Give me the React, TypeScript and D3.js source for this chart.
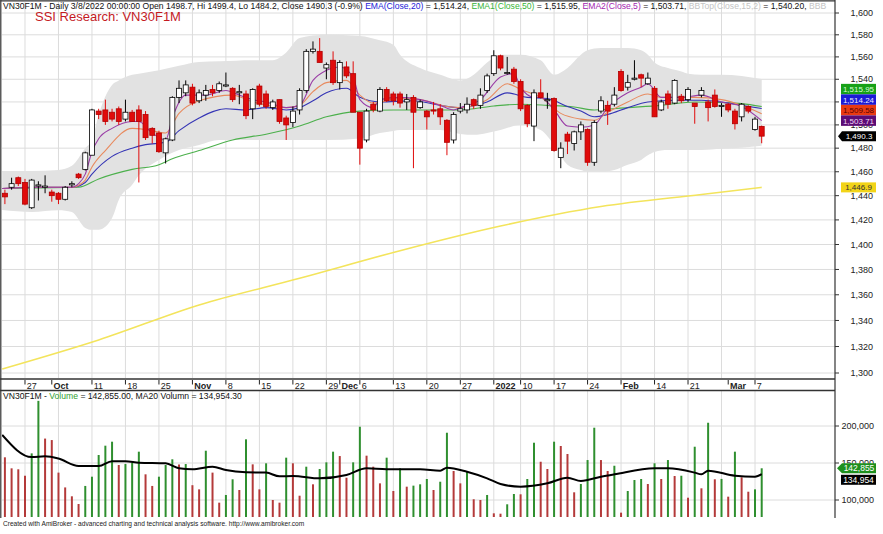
import React from "react";
import * as d3 from "d3";

const W = 883;
const H = 534;

// ---------- candle data (Sep 22 2021 .. Mar 8 2022, VN30F1M daily) ----------
const openP = [1442,1447,1455,1451,1430,1448,1447,1443,1442,1437,1449,1458,1462,1474,1512,1513,1511,1514,1505,1511,
1513,1509,1497,1493,1476,1487,1524,1528,1533,1521,1526,1531,1530,1534,1532,1528,1527,1514,1534,1527,
1515,1522,1506,1502,1513,1530,1565,1565,1550,1557,1537,1551,1545,1511,1487,1518,1512,1531,1527,1527,
1520,1524,1515,1512,1513,1514,1504,1487,1512,1513,1522,1517,1530,1545,1561,1545,1549,1538,1517,1499,
1528,1521,1523,1472,1492,1484,1494,1496,1468,1512,1517,1518,1547,1533,1540,1544,1536,1532,1513,1527,
1519,1525,1522,1519,1526,1520,1526,1516,1518,1512,1507,1516,1496,1498.7];
const highP = [1445,1455,1456,1454,1454,1452,1457,1445,1443,1448,1452,1459,1477,1514,1514,1522,1514,1516,1522,1513,
1517,1512,1498,1495,1489,1525,1539,1539,1536,1531,1535,1535,1538,1546,1533,1535,1530,1532,1536,1530,
1522,1522,1508,1516,1532,1567,1574,1577,1555,1565,1557,1556,1556,1511,1514,1520,1533,1533,1529,1529,
1527,1526,1522,1513,1520,1518,1505,1511,1519,1524,1523,1532,1545,1566,1562,1560,1551,1540,1518,1531,
1540,1528,1524,1485,1494,1495,1503,1497,1504,1525,1521,1533,1549,1544,1557,1545,1546,1534,1522,1530,
1540,1527,1533,1519,1533,1522,1531,1519,1519,1514,1519,1517,1507,1499.4];
const lowP = [1433,1445,1448,1432,1429,1436,1442,1435,1433,1436,1447,1454,1461,1474,1505,1500,1503,1500,1503,1503,
1451,1487,1484,1476,1467,1486,1519,1525,1517,1519,1521,1525,1528,1533,1520,1518,1505,1505,1516,1514,
1513,1501,1487,1498,1509,1528,1563,1555,1540,1535,1531,1541,1511,1466,1485,1511,1511,1520,1517,1515,
1513,1463,1514,1496,1509,1500,1474,1484,1510,1510,1514,1514,1528,1543,1548,1544,1536,1512,1498,1486,
1523,1514,1477,1463,1475,1478,1487,1465,1465,1510,1500,1516,1529,1530,1539,1533,1535,1507,1512,1514,
1518,1519,1520,1501,1524,1503,1515,1507,1511,1496,1503,1510,1495,1484.2];
const closeP = [1439,1450,1450,1433,1453,1449,1448,1440,1437,1447,1450,1455,1476,1513,1509,1503,1505,1503,1511,1503,
1503,1489,1491,1477,1488,1524,1532,1535,1519,1528,1530,1528,1536,1535,1522,1529,1508,1531,1518,1516,
1520,1503,1500,1512,1530,1565,1567,1555,1553,1537,1555,1543,1511,1480,1512,1513,1531,1521,1521,1519,
1522,1511,1520,1507,1512,1507,1485,1509,1514,1518,1517,1526,1543,1561,1550,1546,1538,1514,1501,1528,
1524,1522,1478,1480,1486,1494,1500,1468,1502,1521,1512,1526,1530,1537,1541,1541,1541,1507,1520,1518,
1539,1521,1531,1516,1530,1515,1516,1517,1513,1501,1518,1512,1505,1490.3];
const volume = [157700,142800,141500,132800,163000,234000,183000,181000,137000,117000,105000,94600,119000,131500,160800,173400,178800,147300,148600,150400,
165300,134700,119000,131500,147300,155000,148000,148600,120000,114400,166600,137000,96400,106800,128000,113500,182000,148200,114400,149600,
100000,96400,157200,149600,105800,145000,121200,141900,150900,165300,159400,130100,150900,199000,159900,145000,122500,157200,112200,142800,
118000,119400,121200,128400,113500,124700,190900,139200,122500,138200,101000,100000,106800,82000,81500,94200,108100,107700,128400,177400,
151700,141900,178800,173000,162200,110400,121600,154000,197700,154000,139200,146300,82900,112200,127000,128400,121600,149600,128400,154000,
132400,132800,103100,172000,115800,204400,128000,128500,104500,165300,130700,111200,114400,142855];

// ---------- indicator lines: [bar index, value] ----------
const ema5Pts: [number, number][] = [[-0.4,1446],[5,1447],[10,1447],[11,1450],[12,1458],[13,1477],[14,1488],[16,1497],[19,1503],[20,1503],[22,1493],[24,1487],[25,1506],[27,1526],[30,1526],[33,1530],[35,1526],[37,1522],[39,1520],[42,1515],[44,1517],[46,1539],[48,1548],[50,1551],[52,1542],[53,1522],[55,1515],[56,1522],[59,1524],[62,1522],[65,1517],[67,1513],[68,1515],[71,1522],[74,1542],[76,1545],[77,1533],[79,1524],[80,1524],[82,1513],[84,1499],[86,1498],[88,1500],[90,1515],[93,1528],[95,1533],[96,1536],[98,1524],[101,1524],[104,1526],[107,1520],[110,1516],[113,1503.71]];
const ema10Pts: [number, number][] = [[-0.4,1446],[5,1447],[10,1447],[11,1448.5],[12,1453],[13,1464],[15,1478],[19,1497],[21,1496],[24,1493],[26,1510],[29,1521],[34,1526],[37,1520],[42,1515],[44,1517],[46,1529],[48,1537],[51,1539],[53,1526],[55,1519],[59,1523],[62,1522],[66,1516],[68,1515],[72,1522],[75,1536],[77,1531],[80,1524],[83,1510],[86,1505],[88,1504],[90,1511],[93,1520],[96,1527],[98,1524],[103,1524],[107,1522],[110,1517],[113,1509.58]];
const ema20Pts: [number, number][] = [[-0.4,1446],[5,1447],[10,1447],[12,1451],[13,1458],[16,1473],[19,1480],[21,1483],[24,1485],[26,1495],[29,1506],[33,1514],[36,1513],[39,1515],[42,1513],[44,1515],[46,1521],[48,1528],[51,1532],[53,1524],[56,1520],[61,1521],[65,1517],[68,1515],[72,1520],[75,1528],[78,1524],[81,1523],[84,1516],[86,1512],[88,1507],[90,1509],[93,1515],[96,1520],[100,1521.5],[104,1521.5],[107,1520],[110,1517],[113,1514.24]];
const ema50Pts: [number, number][] = [[-0.4,1446],[5,1446.5],[11,1447],[14,1454],[19,1462],[23,1466],[25,1471],[29,1478],[34,1487],[39,1492],[44,1499],[48,1507],[53,1512],[58,1513],[63,1513],[68,1513],[73,1516.5],[77,1518],[81,1517],[85,1515.5],[88,1513],[93,1515],[98,1517],[103,1520],[107,1519.5],[110,1518.5],[113,1515.95]];
const ema200Pts: [number, number][] = [[-0.4,1303],[14,1325],[29,1352],[44,1373],[59,1395],[74,1415],[89,1431],[104,1441],[113,1446.9]];

const bbIdx = [-0.4,4,8,10,12,13,14,16,17,19,20,23,26,29,32,37,40,42,44,48,53,56,58,59,62,65,68,70,72,74,77,80,82,84,86,87,89,91,93,95,96,97,99,101,102,104,107,110,113];
const bbTop = [1460.7,1460.7,1461.5,1465,1480,1487,1508.7,1535,1539,1544,1545,1548,1552,1555.4,1556,1557,1557,1564,1577,1580,1579,1575,1571,1562,1550,1544,1539,1544,1555,1562,1562,1557,1544,1550,1562,1566,1568,1568,1568,1566,1562,1555,1550,1547,1545,1544,1544,1543,1540.2];
const bbBot = [1428.2,1426.6,1428,1426.6,1413.5,1412,1412,1421.6,1436.5,1449,1457,1470,1478.5,1482.8,1487,1487,1487,1487,1487,1487,1488.3,1493,1494.8,1495.6,1495.6,1495.6,1492.2,1491.4,1493,1495.6,1500,1495.6,1482.8,1466,1461.5,1460,1460,1461.5,1466,1470,1474,1476.8,1478.5,1478.5,1478.5,1478.5,1479.4,1480.3,1482];

const volMa20Pts: [number, number][] = [[-0.4,188000],[4,158000],[6,159000],[8,156000],[11,146000],[14,146000],[16,152500],[18,152500],[20,150500],[24,149500],[26,143000],[28,141500],[31,145000],[33,140500],[36,137500],[39,137000],[41,132000],[43,132500],[47,129300],[51,133800],[54,142800],[57,141500],[62,141500],[65,139600],[66,143700],[69,138200],[72,129300],[74,121600],[77,118000],[81,122500],[84,130100],[86,125700],[89,131500],[91,134700],[97,142800],[99,142800],[103,137000],[104,134700],[105,139600],[109,132800],[112,131500],[113,134954.3]];

const priceTicks = d3.range(1300, 1601, 20);
const volTicks = [100000, 150000, 200000];
const monthAbbr = ["2022", "Feb", "Mar", "Apr", "May", "Jun", "Jul", "Aug", "Sep", "Oct", "Nov", "Dec"];
const holidays = ["2022-01-03", "2022-01-31", "2022-02-01", "2022-02-02", "2022-02-03", "2022-02-04"];

const FONT = "'Liberation Sans', Arial, sans-serif";
const fmtDay = d3.timeFormat("%Y-%m-%d");

function tradingDays(): Date[] {
  return d3.timeDay
    .range(new Date(2021, 8, 22), new Date(2022, 2, 9))
    .filter((d) => d.getDay() !== 0 && d.getDay() !== 6 && !holidays.includes(fmtDay(d)));
}

export default function App() {
  const days = tradingDays();
  const n = closeP.length;
  const PL = 2, PR = 835, PT = 2, PB = 378, VT = 391, VB = 517;
  const xs = d3.scaleLinear().domain([0, 113]).range([4.9, 761.7]);
  const ys = d3.scaleLog().domain([1300, 1600]).range([373, 13]);
  const yv = d3.scaleLinear().domain([100000, 200000]).range([500, 426]);

  const line = d3.line<[number, number]>().x((d) => xs(d[0])).y((d) => ys(d[1])).curve(d3.curveMonotoneX);
  const vline = d3.line<[number, number]>().x((d) => xs(d[0])).y((d) => yv(d[1])).curve(d3.curveMonotoneX);
  const band = d3
    .area<number>()
    .x((_, i) => xs(bbIdx[i]))
    .y0((_, i) => ys(bbBot[i]))
    .y1((_, i) => ys(bbTop[i]))
    .curve(d3.curveMonotoneX);

  // week starts (grid) and labels
  const weekStarts: number[] = [];
  const monthStarts: number[] = [];
  days.forEach((d, i) => {
    if (i === 0) return;
    if (+d3.timeMonday.floor(d) !== +d3.timeMonday.floor(days[i - 1])) weekStarts.push(i);
    if (d.getMonth() !== days[i - 1].getMonth()) monthStarts.push(i);
  });
  const xLabels: { i: number; text: string; bold: boolean }[] = [];
  monthStarts.forEach((i) => xLabels.push({ i, text: monthAbbr[days[i].getMonth()], bold: true }));
  weekStarts.forEach((i) => {
    if (monthStarts.some((m) => Math.abs(m - i) <= 1)) return;
    xLabels.push({ i, text: String(days[i].getDate()), bold: false });
  });

  // right value boxes (stacked so they do not overlap)
  const boxH = 10.5;
  const boxes = [
    { v: ema50Pts[ema50Pts.length - 1][1], bg: "#17a117", fg: "#d9ffd9" },
    { v: ema20Pts[ema20Pts.length - 1][1], bg: "#1b1bd6", fg: "#e8e8ff" },
    { v: ema10Pts[ema10Pts.length - 1][1], bg: "#e83a12", fg: "#5a0000" },
    { v: ema5Pts[ema5Pts.length - 1][1], bg: "#5c0c74", fg: "#f0d8f8" },
  ].map((b) => ({ ...b, y: ys(b.v) }));
  boxes.sort((a, b) => a.y - b.y);
  for (let k = boxes.length - 2; k >= 0; k--) boxes[k].y = Math.min(boxes[k].y, boxes[k + 1].y - boxH);
  const boxTop = boxes[0].y - boxH / 2;
  const boxBottom = boxes[boxes.length - 1].y + boxH / 2;
  const fmt2 = d3.format(",.2f");
  const lastClose = closeP[n - 1];
  const lastVol = volume[n - 1];
  const lastMa = volMa20Pts[volMa20Pts.length - 1][1];
  const lastYellow = ema200Pts[ema200Pts.length - 1][1];

  // axis labels fully hidden behind the value boxes are not drawn (as in AmiBroker)
  const visiblePriceTicks = priceTicks.filter((t) => {
    const y = ys(t);
    return !(y - 3 > boxTop && y + 3 < boxBottom);
  });

  const upC = "#000";
  const dnC = "#e00b0b";

  return (
    <svg width={W} height={H} style={{ position: "absolute", left: 0, top: 0, background: "#fff" }} fontFamily={FONT}>
      <defs>
        <clipPath id="pclip"><rect x={PL} y={PT} width={PR - PL} height={PB - PT} /></clipPath>
        <clipPath id="vclip"><rect x={PL} y={VT} width={PR - PL} height={VB - VT} /></clipPath>
        <clipPath id="hclip"><rect x={0} y={0} width={PR - 1} height={14} /></clipPath>
      </defs>
      <rect x={0} y={0} width={W} height={H} fill="#fff" />

      {/* grid */}
      {priceTicks.map((t) => (
        <line key={"hg" + t} x1={PL} x2={PR} y1={ys(t)} y2={ys(t)} stroke="#dcdcdc" strokeWidth={1} />
      ))}
      {volTicks.map((t) => (
        <line key={"vg" + t} x1={PL} x2={PR} y1={yv(t)} y2={yv(t)} stroke="#dcdcdc" strokeWidth={1} />
      ))}
      {weekStarts.map((i) => (
        <g key={"wg" + i}>
          <line x1={xs(i)} x2={xs(i)} y1={PT} y2={PB} stroke="#dcdcdc" />
          <line x1={xs(i)} x2={xs(i)} y1={VT} y2={VB} stroke="#dcdcdc" />
        </g>
      ))}

      {/* price panel */}
      <g clipPath="url(#pclip)">
        <path d={band(bbTop) || ""} fill="#e2e2e2" stroke="none" />
        <path d={line(ema200Pts) || ""} fill="none" stroke="#f3e45c" strokeWidth={1.6} />
        <path d={line(ema50Pts) || ""} fill="none" stroke="#4cb04c" strokeWidth={1.1} />
        <path d={line(ema20Pts) || ""} fill="none" stroke="#3535b5" strokeWidth={1.1} />
        <path d={line(ema10Pts) || ""} fill="none" stroke="#e88a5e" strokeWidth={1.1} />
        <path d={line(ema5Pts) || ""} fill="none" stroke="#9a3da6" strokeWidth={1.1} />
        {closeP.map((c, i) => {
          const o = openP[i];
          const up = c >= o;
          const x = xs(i);
          const yT = ys(Math.max(o, c));
          const yB = ys(Math.min(o, c));
          const col = up ? upC : dnC;
          return (
            <g key={"c" + i}>
              <line x1={x} x2={x} y1={ys(highP[i])} y2={ys(lowP[i])} stroke={col} strokeWidth={1} />
              <rect x={x - 2.5} y={yT} width={5} height={Math.max(1, yB - yT)} fill={up ? "#fff" : dnC} stroke={up ? "#000" : "#b00000"} strokeWidth={0.8} />
            </g>
          );
        })}
      </g>

      {/* volume panel */}
      <g clipPath="url(#vclip)">
        {volume.map((v, i) => {
          const up = i > 0 && v > volume[i - 1];
          return (
            <line key={"v" + i} x1={xs(i)} x2={xs(i)} y1={VB} y2={yv(v)} stroke={up ? "#2f8f2f" : "#b43a3a"} strokeWidth={2} />
          );
        })}
        <path d={vline(volMa20Pts) || ""} fill="none" stroke="#000" strokeWidth={2} />
      </g>

      {/* frames */}
      <line x1={0.5} x2={PR} y1={0.8} y2={0.8} stroke="#333" strokeWidth={1.2} />
      <line x1={0.8} x2={0.8} y1={0} y2={VB + 1} stroke="#333" strokeWidth={1.2} />
      <line x1={PR} x2={PR} y1={0} y2={VB + 1} stroke="#333" strokeWidth={1.2} />
      <line x1={0} x2={PR} y1={379} y2={379} stroke="#333" strokeWidth={1.4} />
      <line x1={0} x2={PR} y1={390.5} y2={390.5} stroke="#333" strokeWidth={1.4} />

      {/* x labels */}
      {xLabels.map((l) => (
        <g key={"xl" + l.i}>
          <line x1={xs(l.i)} x2={xs(l.i)} y1={380} y2={384.5} stroke="#222" strokeWidth={1} />
          <text x={xs(l.i) + 1.8} y={388.8} fontSize={9} fontWeight={l.bold ? "bold" : "normal"} fill="#222">{l.text}</text>
        </g>
      ))}

      {/* right price axis */}
      {priceTicks.map((t) => (
        <line key={"ptk" + t} x1={PR} x2={PR + 4} y1={ys(t)} y2={ys(t)} stroke="#333" />
      ))}
      {visiblePriceTicks.map((t) => (
        <text key={"pt" + t} x={873} y={ys(t) + 3.2} fontSize={9} textAnchor="end" fill="#222">{d3.format(",")(t)}</text>
      ))}
      {volTicks.map((t) => (
        <g key={"vt" + t}>
          <line x1={PR} x2={PR + 4} y1={yv(t)} y2={yv(t)} stroke="#333" />
          <text x={874} y={yv(t) + 3.2} fontSize={9} textAnchor="end" fill="#222">{d3.format(",")(t)}</text>
        </g>
      ))}

      {/* value boxes */}
      {boxes.map((b, k) => (
        <g key={"bx" + k}>
          <rect x={841} y={b.y - boxH / 2} width={35} height={boxH} fill={b.bg} />
          <text x={858.5} y={b.y + 3} fontSize={8} textAnchor="middle" fill={b.fg}>{fmt2(b.v)}</text>
        </g>
      ))}
      <path d={`M838,${ys(lastClose)} L842,${ys(lastClose) - 5} L876,${ys(lastClose) - 5} L876,${ys(lastClose) + 5} L842,${ys(lastClose) + 5} Z`} fill="#000" />
      <text x={859} y={ys(lastClose) + 3} fontSize={8} textAnchor="middle" fill="#fff">{d3.format(",.1f")(lastClose)}</text>
      <rect x={841} y={ys(lastYellow) - 5} width={35} height={10} fill="#f2d418" />
      <text x={858.5} y={ys(lastYellow) + 3} fontSize={8} textAnchor="middle" fill="#333">{d3.format(",.1f")(lastYellow)}</text>

      <path d={`M837,${yv(lastVol)} L842,${yv(lastVol) - 5} L876,${yv(lastVol) - 5} L876,${yv(lastVol) + 5} L842,${yv(lastVol) + 5} Z`} fill="#1e901e" />
      <text x={859} y={yv(lastVol) + 3} fontSize={8.5} textAnchor="middle" fill="#fff">{d3.format(",.0f")(lastVol)}</text>
      <rect x={841} y={yv(lastVol) + 6.5} width={35} height={10} fill="#000" />
      <text x={858.5} y={yv(lastVol) + 14.5} fontSize={8.5} textAnchor="middle" fill="#fff">{d3.format(",.0f")(lastMa)}</text>

      {/* headers */}
      <g clipPath="url(#hclip)">
        <text x={3} y={8.6} fontSize={8.6} fill="#111">
          <tspan>VN30F1M - Daily 3/8/2022 00:00:00 Open 1498.7, Hi 1499.4, Lo 1484.2, Close 1490.3 (-0.9%) </tspan>
          <tspan fill="#2323d8">EMA(Close,20)</tspan>
          <tspan>{" = 1,514.24, "}</tspan>
          <tspan fill="#39b539">EMA1(Close,50)</tspan>
          <tspan>{" = 1,515.95, "}</tspan>
          <tspan fill="#a427b0">EMA2(Close,5)</tspan>
          <tspan>{" = 1,503.71, "}</tspan>
          <tspan fill="#c4c4c4">BBTop(Close,15,2)</tspan>
          <tspan>{" = 1,540.20, "}</tspan>
          <tspan fill="#c4c4c4">BBB</tspan>
        </text>
      </g>
      <text x={35} y={21} fontSize={13} fill="#c41a1f">SSI Research: VN30F1M</text>
      <text x={3} y={398.5} fontSize={8.6} fill="#111">
        <tspan>VN30F1M - </tspan>
        <tspan fill="#30a030">Volume</tspan>
        <tspan>{" = 142,855.00, MA20 Volumn = 134,954.30"}</tspan>
      </text>
      <text x={3} y={526} fontSize={6.6} fill="#222">Created with AmiBroker - advanced charting and technical analysis software. http://www.amibroker.com</text>
    </svg>
  );
}
